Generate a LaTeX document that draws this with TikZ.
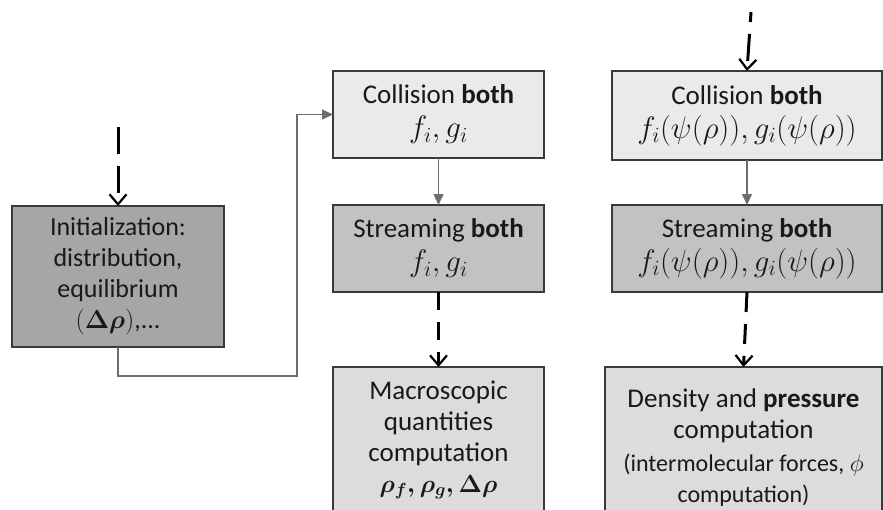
\RequirePackage{fix-cm}
\documentclass[tikz,border=0pt]{standalone}
\usepackage{amsmath}
\usepackage{fontspec}
\setmainfont{Carlito}
\usetikzlibrary{arrows.meta}

\definecolor{initfill}{HTML}{A6A6A6}
\definecolor{collfill}{HTML}{EAEAEA}
\definecolor{strmfill}{HTML}{C2C2C2}
\definecolor{outfill}{HTML}{DCDCDC}
\definecolor{boxline}{HTML}{3A3A3A}
\definecolor{linkgray}{HTML}{6E6E6E}

\newcommand{\bigmath}[1]{{\fontsize{31}{31}\selectfont$#1$}}

\tikzset{
  stage/.style={draw=boxline,line width=1.5pt,inner sep=0pt,outer sep=0pt,align=center,
    text=black!90,font=\fontsize{27}{31}\selectfont},
  flow/.style={line width=3pt,dash pattern=on 27pt off 12pt,
    -{Straight Barb[length=10pt,width=17pt,line width=2.2pt]}},
  link/.style={draw=linkgray,line width=1.3pt,-{Triangle[length=11pt,width=10pt]}}
}

\begin{document}
\begin{tikzpicture}[x=1pt,y=-1pt]
                \useasboundingbox (0,0) rectangle (883,509);
                \clip (0,0) rectangle (883,509);
                \node[stage,fill=initfill,minimum width=212pt,minimum height=141pt,
                  font=\fontsize{26}{31}\selectfont] (init) at (118,276.5)
                  {Initialization:\\distribution,\\equilibrium\\$(\boldsymbol{\Delta\rho})$,...};
                \node[stage,fill=collfill,minimum width=211pt,minimum height=87pt] (coll1) at (438.5,114.5)
                  {Collision \textbf{both}\\[3pt]\bigmath{f_i,g_i}};
                \node[stage,fill=strmfill,minimum width=211pt,minimum height=87pt] (strm1) at (438.5,248.5)
                  {Streaming \textbf{both}\\[3pt]\bigmath{f_i,g_i}};
                \node[stage,fill=outfill,minimum width=211pt,minimum height=146pt] (macro) at (438.5,440)
                  {Macroscopic\\quantities\\computation\\
                   {\fontsize{25}{31}\selectfont$\boldsymbol{\rho_f,\rho_g,\Delta\rho}$}};
                \node[stage,fill=collfill,minimum width=270pt,minimum height=89pt] (coll2) at (747,115.5)
                  {Collision \textbf{both}\\[3pt]\bigmath{f_i(\psi(\rho)),g_i(\psi(\rho))}};
                \node[stage,fill=strmfill,minimum width=270pt,minimum height=87pt] (strm2) at (747,248.5)
                  {Streaming \textbf{both}\\[3pt]\bigmath{f_i(\psi(\rho)),g_i(\psi(\rho))}};
                \node[stage,fill=outfill,minimum width=277pt,minimum height=162pt] (dens) at (743.5,448)
                  {Density and \textbf{pressure}\\computation\\[2pt]
                   {\fontsize{24}{33}\selectfont (intermolecular forces, $\phi$}\\
                   {\fontsize{24}{33}\selectfont computation)}};
                \coordinate (in1) at (118,127);
                \coordinate (in2) at (751,12);
                \coordinate (turn) at (297,376);
                \draw[flow] (in1) -- (init.north);
                \draw[flow,dash phase=17pt] (in2) -- (coll2.north);
                \draw[flow,dash pattern=on 18pt off 12pt] (strm1.south) -- (macro.north);
                \draw[flow,dash pattern=on 20pt off 12pt] (strm2.south) -- (dens.north);
                \draw[link] (init.south) |- (turn) |- (coll1.west);
                \draw[link] (coll1.south) -- (strm1.north);
                \draw[link] (coll2.south) -- (strm2.north);
            \end{tikzpicture}
\end{document}
